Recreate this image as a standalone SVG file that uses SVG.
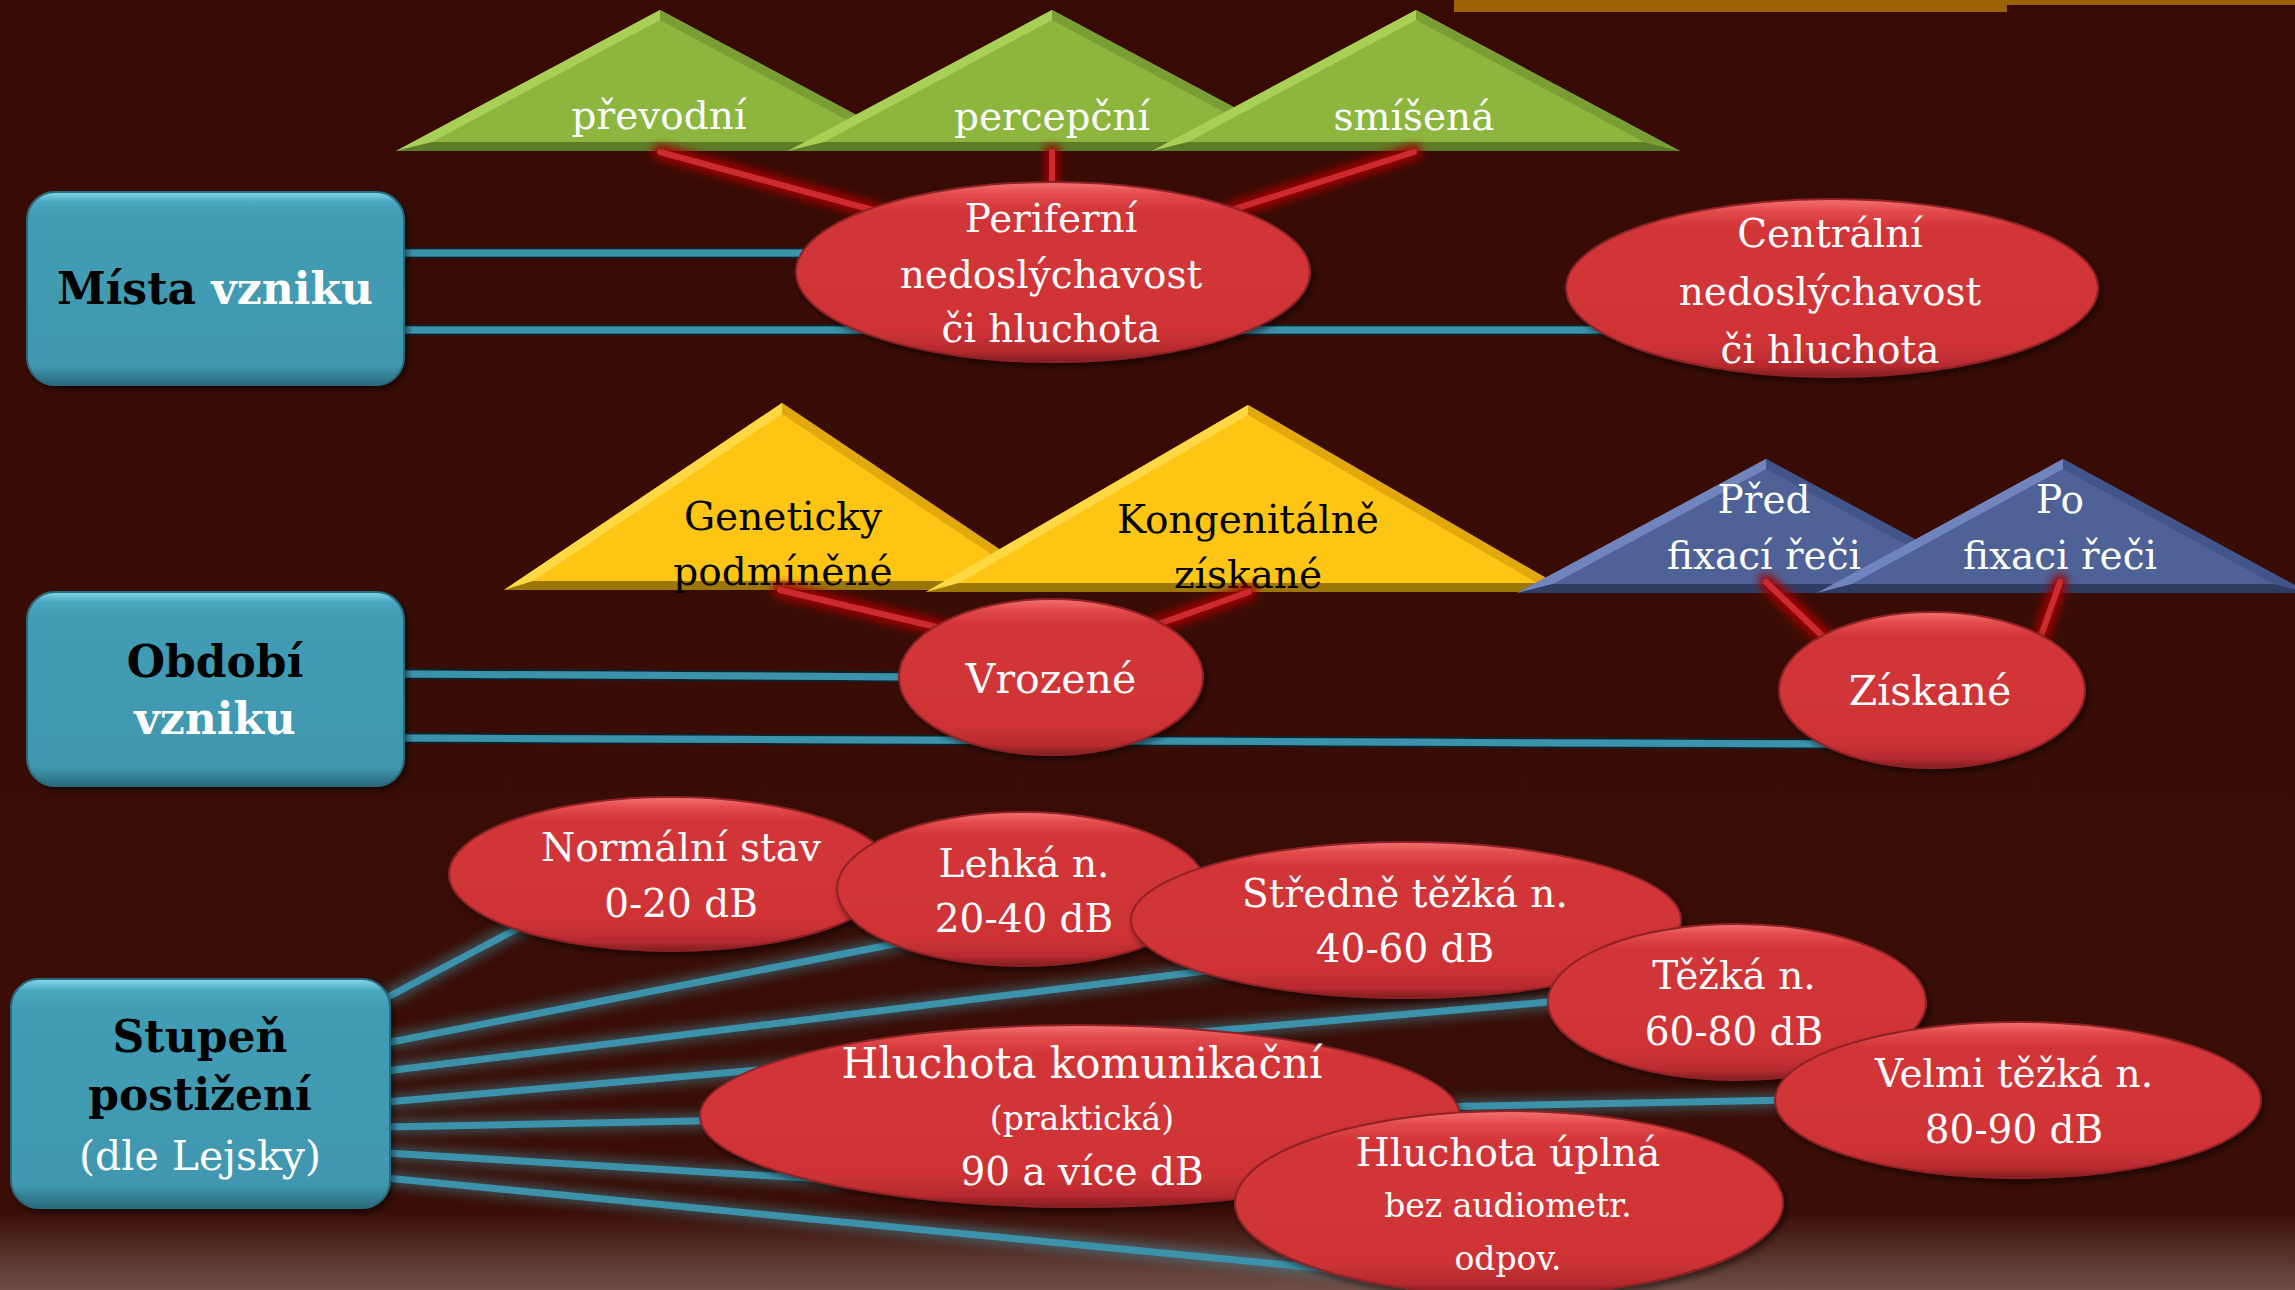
<svg xmlns="http://www.w3.org/2000/svg" width="2295" height="1290" viewBox="0 0 2295 1290">
<style>
.tx{font-family:"DejaVu Serif","Liberation Serif",serif;text-anchor:middle;font-size:39px}
.w{fill:#ffffff}.k{fill:#000000}.b{font-weight:bold;font-size:44px}
.sm{font-size:33px}.lg{font-size:42px}.md{font-size:41px}
.box{fill:url(#gBlue);stroke:#2b6b7d;stroke-width:2;filter:url(#sh)}
.el{fill:url(#gRed);stroke:#8e2225;stroke-width:2;filter:url(#sh)}
.gM{fill:#8db63f}.gL{fill:#a9cf56}.gR{fill:#7a9e34}.gB{fill:#5d7b28}
.yM{fill:#fec515}.yL{fill:#ffd943}.yR{fill:#e2a90f}.yB{fill:#9c7606}
.bM{fill:#4e6297}.bL{fill:#7085bd}.bR{fill:#42558a}.bB{fill:#2f3d63}
.red{stroke:#cb2a2f;stroke-width:6;fill:none;stroke-linecap:round;filter:url(#fR)}
.teal{stroke:#3a93ab;stroke-width:7;fill:none;filter:url(#fD)}
.fan{stroke:#3a92aa;stroke-width:7;fill:none;filter:url(#fT)}
</style>
<defs>
<linearGradient id="bgG" x1="0" y1="0" x2="0" y2="1">
<stop offset="0" stop-color="#370b03"/><stop offset="0.94" stop-color="#3a0e06"/><stop offset="1" stop-color="#6f4e46"/>
</linearGradient>
<linearGradient id="gBlue" x1="0" y1="0" x2="0" y2="1">
<stop offset="0" stop-color="#86d8ee"/><stop offset="0.05" stop-color="#4aa8c1"/><stop offset="0.12" stop-color="#419db5"/><stop offset="0.9" stop-color="#3f98b0"/><stop offset="1" stop-color="#2a6a7c"/>
</linearGradient>
<linearGradient id="gRed" x1="0" y1="0" x2="0" y2="1">
<stop offset="0" stop-color="#f47172"/><stop offset="0.07" stop-color="#e34a4c"/><stop offset="0.16" stop-color="#d23538"/><stop offset="0.82" stop-color="#cf3336"/><stop offset="0.94" stop-color="#b52a2e"/><stop offset="1" stop-color="#7d1d20"/>
</linearGradient>
<filter id="sh" x="-10%" y="-10%" width="125%" height="130%">
<feDropShadow dx="3" dy="4" stdDeviation="3" flood-color="#000" flood-opacity="0.5"/>
</filter>
<filter id="fR" filterUnits="userSpaceOnUse" x="0" y="0" width="2295" height="1290">
<feMorphology in="SourceAlpha" operator="dilate" radius="4" result="d"/>
<feGaussianBlur in="d" stdDeviation="4" result="b"/>
<feFlood flood-color="#a00000" flood-opacity="0.95"/>
<feComposite in2="b" operator="in" result="g"/>
<feMerge><feMergeNode in="g"/><feMergeNode in="SourceGraphic"/></feMerge>
</filter>
<filter id="fT" filterUnits="userSpaceOnUse" x="0" y="0" width="2295" height="1290">
<feMorphology in="SourceAlpha" operator="dilate" radius="3" result="d"/>
<feGaussianBlur in="d" stdDeviation="6" result="b"/>
<feFlood flood-color="#3fa9c6" flood-opacity="0.45"/>
<feComposite in2="b" operator="in" result="g"/>
<feMerge><feMergeNode in="g"/><feMergeNode in="SourceGraphic"/></feMerge>
</filter>
<filter id="fD" filterUnits="userSpaceOnUse" x="0" y="0" width="2295" height="1290">
<feMorphology in="SourceAlpha" operator="dilate" radius="1.5" result="d"/>
<feFlood flood-color="#10262c" flood-opacity="0.9"/>
<feComposite in2="d" operator="in" result="g"/>
<feMerge><feMergeNode in="g"/><feMergeNode in="SourceGraphic"/></feMerge>
</filter>
</defs>

<rect width="2295" height="1290" fill="url(#bgG)"/>
<rect x="1454" y="0" width="553" height="12" fill="#9b6104"/>
<rect x="2007" y="0" width="288" height="5" fill="#9b6104"/>

<!-- triangles -->
<g id="t-prevodni">
<polygon class="gM" points="660,10 396,151 924,151"/>
<polygon class="gL" points="660,10 396,151 432,142 660,20"/>
<polygon class="gR" points="660,10 924,151 888,142 660,20"/>
<polygon class="gB" points="396,151 924,151 888,142 432,142"/>
<text class="tx w" x="659" y="129">převodní</text>
</g>
<g id="t-percepcni">
<polygon class="gM" points="1052,10 788,151 1316,151"/>
<polygon class="gL" points="1052,10 788,151 824,142 1052,20"/>
<polygon class="gR" points="1052,10 1316,151 1280,142 1052,20"/>
<polygon class="gB" points="788,151 1316,151 1280,142 824,142"/>
<text class="tx w" x="1052" y="130">percepční</text>
</g>
<g id="t-smisena">
<polygon class="gM" points="1416,10 1152,151 1680,151"/>
<polygon class="gL" points="1416,10 1152,151 1188,142 1416,20"/>
<polygon class="gR" points="1416,10 1680,151 1644,142 1416,20"/>
<polygon class="gB" points="1152,151 1680,151 1644,142 1188,142"/>
<text class="tx w" x="1414" y="130">smíšená</text>
</g>
<g id="t-geneticky">
<polygon class="yM" points="782,403 504,590 1060,590"/>
<polygon class="yL" points="782,403 504,590 533,581 782,414"/>
<polygon class="yR" points="782,403 1060,590 1031,581 782,414"/>
<polygon class="yB" points="504,590 1060,590 1031,581 533,581"/>
<text class="tx k" x="783" y="530">Geneticky</text>
<text class="tx k" x="783" y="585">podmíněné</text>
</g>
<g id="t-kongenitalne">
<polygon class="yM" points="1248,405 926,592 1570,592"/>
<polygon class="yL" points="1248,405 926,592 959,583 1248,415"/>
<polygon class="yR" points="1248,405 1570,592 1537,583 1248,415"/>
<polygon class="yB" points="926,592 1570,592 1537,583 959,583"/>
<text class="tx k" x="1248" y="533">Kongenitálně</text>
<text class="tx k" x="1248" y="588">získané</text>
</g>
<g id="t-pred">
<polygon class="bM" points="1766,459 1517,593 2015,593"/>
<polygon class="bL" points="1766,459 1517,593 1553,584 1766,469"/>
<polygon class="bR" points="1766,459 2015,593 1979,584 1766,469"/>
<polygon class="bB" points="1517,593 2015,593 1979,584 1553,584"/>
<text class="tx w" x="1764" y="513">Před</text>
<text class="tx w" x="1764" y="569">fixací řeči</text>
</g>
<g id="t-po">
<polygon class="bM" points="2063,459 1817,593 2309,593"/>
<polygon class="bL" points="2063,459 1817,593 1852,584 2063,469"/>
<polygon class="bR" points="2063,459 2309,593 2274,584 2063,469"/>
<polygon class="bB" points="1817,593 2309,593 2274,584 1852,584"/>
<text class="tx w" x="2060" y="513">Po</text>
<text class="tx w" x="2060" y="569">fixaci řeči</text>
</g>

<!-- connectors -->
<g id="connectors">
<line class="red" x1="660" y1="152" x2="880" y2="212"/>
<line class="red" x1="1052" y1="152" x2="1052" y2="192"/>
<line class="red" x1="1414" y1="152" x2="1225" y2="212"/>
<line class="red" x1="780" y1="590" x2="962" y2="633"/>
<line class="red" x1="1249" y1="592" x2="1150" y2="627"/>
<line class="red" x1="1766" y1="582" x2="1835" y2="648"/>
<line class="red" x1="2060" y1="582" x2="2036" y2="650"/>
<line class="teal" x1="404" y1="253" x2="820" y2="253"/>
<line class="teal" x1="404" y1="330" x2="1620" y2="330"/>
<line class="teal" x1="404" y1="674" x2="920" y2="677"/>
<line class="teal" x1="404" y1="738" x2="1850" y2="744"/>
<line class="fan" x1="386" y1="998" x2="545" y2="914"/>
<line class="fan" x1="386" y1="1043" x2="920" y2="939"/>
<line class="fan" x1="386" y1="1071" x2="1230" y2="968"/>
<line class="fan" x1="386" y1="1102" x2="1560" y2="1001"/>
<line class="fan" x1="386" y1="1127" x2="1790" y2="1100"/>
<line class="fan" x1="386" y1="1153" x2="840" y2="1180"/>
<line class="fan" x1="386" y1="1178" x2="1380" y2="1274"/>
</g>

<!-- boxes -->
<g id="n-mista">
<rect class="box" x="27" y="192" width="377" height="193" rx="28"/>
<text class="tx b" x="215" y="304"><tspan class="k">Místa</tspan><tspan class="w"> vzniku</tspan></text>
</g>
<g id="n-obdobi">
<rect class="box" x="27" y="592" width="377" height="194" rx="28"/>
<text class="tx b k" x="215" y="677">Období</text>
<text class="tx b w" x="215" y="734">vzniku</text>
</g>
<g id="n-stupen">
<rect class="box" x="11" y="979" width="379" height="229" rx="28"/>
<text class="tx b k" x="200" y="1052">Stupeň</text>
<text class="tx b k" x="200" y="1110">postižení</text>
<text class="tx w md" x="200" y="1170">(dle Lejsky)</text>
</g>

<!-- ellipses -->
<g id="n-periferni">
<ellipse class="el" cx="1053" cy="272" rx="257" ry="90"/>
<text class="tx w" x="1051" y="232">Periferní</text>
<text class="tx w" x="1051" y="288">nedoslýchavost</text>
<text class="tx w" x="1051" y="342">či hluchota</text>
</g>
<g id="n-centralni">
<ellipse class="el" cx="1832" cy="288" rx="266" ry="89"/>
<text class="tx w" x="1830" y="247">Centrální</text>
<text class="tx w" x="1830" y="305">nedoslýchavost</text>
<text class="tx w" x="1830" y="363">či hluchota</text>
</g>
<g id="n-vrozene">
<ellipse class="el" cx="1051" cy="677" rx="152" ry="78"/>
<text class="tx w md" x="1051" y="693">Vrozené</text>
</g>
<g id="n-ziskane">
<ellipse class="el" cx="1932" cy="690" rx="153" ry="78"/>
<text class="tx w md" x="1930" y="705">Získané</text>
</g>
<g id="n-normalni">
<ellipse class="el" cx="671" cy="874" rx="222" ry="77"/>
<text class="tx w" x="681" y="861">Normální stav</text>
<text class="tx w" x="681" y="917">0-20 dB</text>
</g>
<g id="n-lehka">
<ellipse class="el" cx="1022" cy="889" rx="185" ry="77"/>
<text class="tx w" x="1024" y="877">Lehká n.</text>
<text class="tx w" x="1024" y="932">20-40 dB</text>
</g>
<g id="n-stredne">
<ellipse class="el" cx="1406" cy="920" rx="275" ry="78"/>
<text class="tx w" x="1405" y="907">Středně těžká n.</text>
<text class="tx w" x="1405" y="962">40-60 dB</text>
</g>
<g id="n-tezka">
<ellipse class="el" cx="1737" cy="1002" rx="189" ry="78"/>
<text class="tx w" x="1734" y="989">Těžká n.</text>
<text class="tx w" x="1734" y="1045">60-80 dB</text>
</g>
<g id="n-velmi">
<ellipse class="el" cx="2018" cy="1100" rx="243" ry="78"/>
<text class="tx w" x="2014" y="1087">Velmi těžká n.</text>
<text class="tx w" x="2014" y="1143">80-90 dB</text>
</g>
<g id="n-komunikacni">
<ellipse class="el" cx="1080" cy="1116" rx="380" ry="91"/>
<text class="tx w lg" x="1082" y="1078">Hluchota komunikační</text>
<text class="tx w sm" x="1082" y="1130">(praktická)</text>
<text class="tx w" x="1082" y="1185">90 a více dB</text>
</g>
<g id="n-uplna">
<ellipse class="el" cx="1509" cy="1203" rx="274" ry="92"/>
<text class="tx w" x="1508" y="1166">Hluchota úplná</text>
<text class="tx w sm" x="1508" y="1217">bez audiometr.</text>
<text class="tx w sm" x="1508" y="1270">odpov.</text>
</g>
</svg>
